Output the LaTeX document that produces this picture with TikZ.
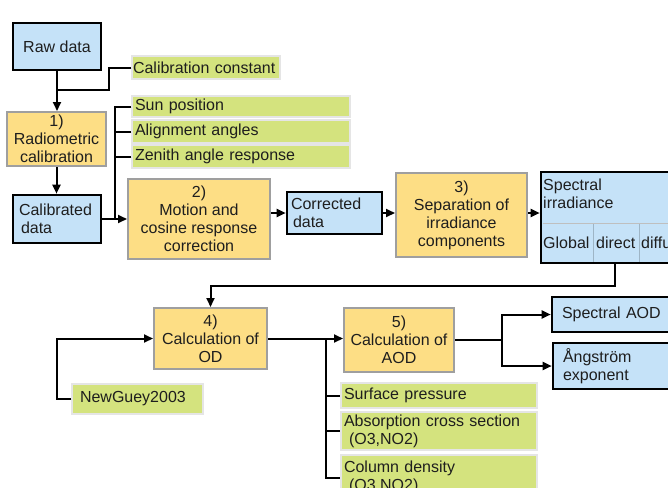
\documentclass[tikz,border=0pt]{standalone}
\usepackage{fontspec}
\setmainfont{Liberation Sans}
\usetikzlibrary{arrows.meta,positioning}
\definecolor{bluefill}{RGB}{197,226,248}
\definecolor{yelfill}{RGB}{253,222,133}
\definecolor{grnfill}{RGB}{212,227,126}
\definecolor{txt}{RGB}{30,30,30}
\tikzset{
  base/.style={font=\fontsize{16}{18}\selectfont, text=txt, inner sep=0pt},
  bluebox/.style={base, draw=black, line width=2.6pt, fill=bluefill},
  yelbox/.style={base, draw=gray!75, line width=2pt, fill=yelfill, align=center},
  grnbox/.style={base, draw=gray!20, line width=1.5pt, fill=grnfill, align=left},
  conn/.style={draw=black, line width=2pt},
  arr/.style={conn, -{Triangle[length=9pt,width=8pt]}},
}
\begin{document}
\begin{tikzpicture}[x=1pt,y=-1pt]
\useasboundingbox (0,0) rectangle (668,487);
\clip (0,0) rectangle (668,487);
% blue boxes
\node[bluebox, minimum width=88pt, minimum height=47pt] (raw) at (57,46.5) {Raw data};
\node[bluebox, minimum width=88pt, minimum height=48pt, text width=76pt, align=left] (calib) at (57,219) {Calibrated\\\hspace*{2pt}data};
\node[bluebox, minimum width=95pt, minimum height=42pt, text width=87pt, align=left] (corr) at (334.5,213) {Corrected\\\hspace*{2pt}data};
\node[bluebox, minimum width=179pt, minimum height=91pt] (spec) at (630.5,217.5) {};
\node[bluebox, minimum width=168pt, minimum height=35pt, text width=148pt, align=left] (saod) at (636,314.5) {Spectral AOD};
\node[bluebox, minimum width=168pt, minimum height=46pt, text width=148pt, align=left] (ang) at (637,366) {Ångström\\exponent};
% spectral irradiance internals
\draw[draw=black!25, line width=0.8pt] (542.5,223) -- (720,223);
\draw[draw=bluefill!80!black, line width=0.4pt] (593,224) -- (593,261.5);
\draw[draw=bluefill!80!black, line width=0.4pt] (639,224) -- (639,261.5);
\node[base, anchor=north west, align=left] (sptxt) at (543,179) {Spectral\\irradiance};
\node[base, anchor=base west] (glob) at (543,248) {Global};
\node[base, anchor=base west] (dir) at (596,248) {direct};
\node[base, anchor=base west] (dif) at (641,248) {diffu};
% yellow boxes
\node[yelbox, minimum width=99pt, minimum height=54pt] (radio) at (56.5,139) {1)\\Radiometric\\calibration};
\node[yelbox, minimum width=142pt, minimum height=80pt] (motion) at (199,219) {2)\\Motion and\\cosine response\\correction};
\node[yelbox, minimum width=131pt, minimum height=84pt] (sep) at (461.5,215) {3)\\Separation of\\irradiance\\components};
\node[yelbox, minimum width=113pt, minimum height=61pt] (od) at (210.5,338.5) {4)\\Calculation of\\OD};
\node[yelbox, minimum width=110pt, minimum height=64pt] (aod) at (399,340) {5)\\Calculation of\\AOD};
% green boxes
\node[grnbox, minimum width=148pt, minimum height=23pt, text width=146pt] (cc) at (206,67.5) {\mbox{Calibration constant}};
\node[grnbox, minimum width=218pt, minimum height=21pt, text width=212pt] (sun) at (241,106.5) {Sun position};
\node[grnbox, minimum width=218pt, minimum height=23pt, text width=212pt] (ali) at (241,131.5) {Alignment angles};
\node[grnbox, minimum width=218pt, minimum height=23pt, text width=212pt] (zen) at (241,156.5) {Zenith angle response};
\node[grnbox, minimum width=131pt, minimum height=30pt, text width=115pt] (ng) at (137.5,399) {NewGuey2003};
\node[grnbox, minimum width=196pt, minimum height=25pt, text width=190pt] (sp) at (439,395.5) {Surface pressure};
\node[grnbox, minimum width=196pt, minimum height=38pt, text width=190pt] (abs) at (439,431) {Absorption cross section\\\hspace*{5pt}(O3,NO2)};
\node[grnbox, minimum width=196pt, minimum height=45pt, text width=190pt] (col) at (439,477.5) {Column density\\\hspace*{5pt}(O3,NO2)};
% coordinates
\coordinate (j1) at (57,90);
\coordinate (b1) at (115,220);
\coordinate (s1) at (615,263);
\coordinate (b2) at (326,339);
\coordinate (f) at (502,340);
% connectors
\draw[arr] (raw.south) -- (raw.south |- radio.north);
\draw[conn] (cc.west) -- ++(-22,0) |- (j1);
\draw[arr] (radio.south) -- (radio.south |- calib.north);
\draw[arr] (calib.east) -- (calib.east -| motion.west);
\draw[conn] (sun.west) -| (b1);
\draw[conn] (ali.west) -- (ali.west -| b1);
\draw[conn] (zen.west) -- (zen.west -| b1);
\draw[arr] (corr.west -| motion.east) -- (corr.west);
\draw[arr] (corr.east) -- (corr.east -| sep.west);
\draw[arr] (corr.east -| sep.east) -- (corr.east -| spec.west);
\draw[arr] (s1) -- ++(0,23) -| (od.north);
\draw[arr] (ng.west) -- ++(-14,0) |- (od.west);
\draw[arr] (od.east) -- (od.east -| aod.west);
\draw[conn] (b2) |- (col.west);
\draw[conn] (sp.west -| b2) -- (sp.west);
\draw[conn] (abs.west -| b2) -- (abs.west);
\draw[conn] (aod.east) -- (f);
\draw[arr] (f) |- (saod.west);
\draw[arr] (f) |- (ang.west);
\end{tikzpicture}
\end{document}
